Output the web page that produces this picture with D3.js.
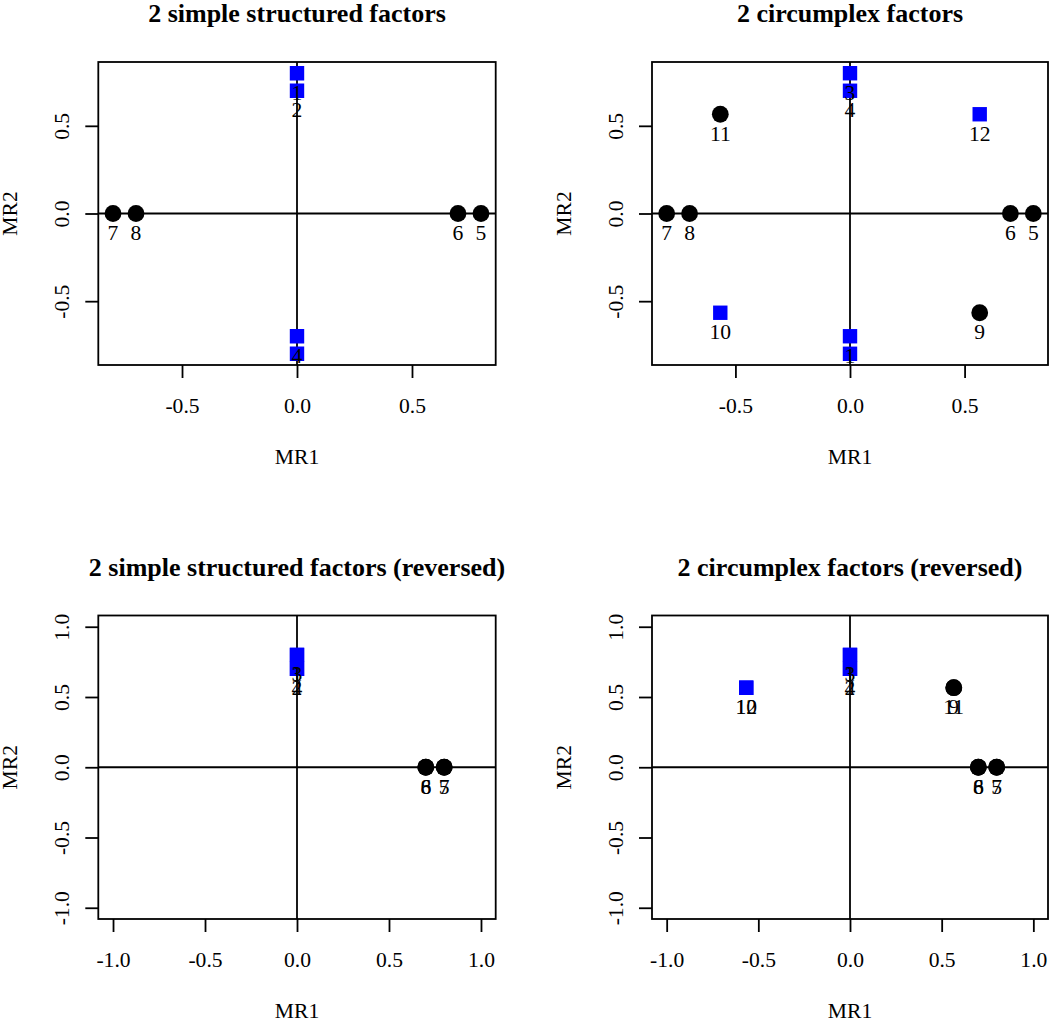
<!DOCTYPE html>
<html>
<head>
<meta charset="utf-8">
<script src="https://cdn.jsdelivr.net/npm/d3@7"></script>
<style>
  html, body { margin: 0; padding: 0; background: #fff; }
  svg { display: block; }
  text { font-family: "Liberation Serif", "Times New Roman", serif; fill: #000; }
</style>
</head>
<body>
<svg id="chart" width="1050" height="1020"></svg>
<script>
// ---------------- data ----------------
const panelTitles = [
  "2 simple structured factors",
  "2 circumplex factors",
  "2 simple structured factors (reversed)",
  "2 circumplex factors (reversed)"
];
const xAxisTitle = "MR1";
const yAxisTitle = "MR2";

// tick values / labels
const ticksSmall = [-0.5, 0, 0.5];
const tickLabelsSmall = ["-0.5", "0.0", "0.5"];
const ticksLarge = [-1, -0.5, 0, 0.5, 1];
const tickLabelsLarge = ["-1.0", "-0.5", "0.0", "0.5", "1.0"];

// panel 1: simple structure
const simpleItems = ["1", "2", "3", "4", "5", "6", "7", "8"];
const simpleMR1 = [0, 0, 0, 0, 0.8, 0.7, -0.8, -0.7];
const simpleMR2 = [0.8, 0.7, -0.8, -0.7, 0, 0, 0, 0];
const simpleCluster = [2, 2, 2, 2, 1, 1, 1, 1];

// panel 2: circumplex
const circItems = ["1", "2", "3", "4", "5", "6", "7", "8", "9", "10", "11", "12"];
const circMR1 = [0, 0, 0, 0, 0.8, 0.7, -0.8, -0.7, 0.566, -0.566, -0.566, 0.566];
const circMR2 = [-0.7, -0.8, 0.8, 0.7, 0, 0, 0, 0, -0.566, -0.566, 0.566, 0.566];
const circCluster = [2, 2, 2, 2, 1, 1, 1, 1, 1, 2, 1, 2];

// panel 3: simple structure, reversed
const revSimpleMR1 = [0, 0, 0, 0, 0.8, 0.7, 0.8, 0.7];
const revSimpleMR2 = [0.8, 0.7, 0.8, 0.7, 0, 0, 0, 0];

// panel 4: circumplex, reversed
const revCircMR1 = [0, 0, 0, 0, 0.8, 0.7, 0.8, 0.7, 0.566, -0.566, 0.566, -0.566];
const revCircMR2 = [0.8, 0.7, 0.8, 0.7, 0, 0, 0, 0, 0.566, 0.566, 0.566, 0.566];

// ---------------- layout ----------------
const svg = d3.select("#chart");
const FONT = 21.6;

const panels = [
  { title: panelTitles[0], items: simpleItems, x: simpleMR1, y: simpleMR2, cl: simpleCluster,
    lim: 0.864, ticks: ticksSmall, labels: tickLabelsSmall, left: 98.3, top: 62, w: 397.4, h: 303 },
  { title: panelTitles[1], items: circItems, x: circMR1, y: circMR2, cl: circCluster,
    lim: 0.864, ticks: ticksSmall, labels: tickLabelsSmall, left: 652, top: 62, w: 396, h: 303 },
  { title: panelTitles[2], items: simpleItems, x: revSimpleMR1, y: revSimpleMR2, cl: simpleCluster,
    lim: 1.08, ticks: ticksLarge, labels: tickLabelsLarge, left: 98.3, top: 615.5, w: 397.4, h: 303.5 },
  { title: panelTitles[3], items: circItems, x: revCircMR1, y: revCircMR2, cl: circCluster,
    lim: 1.08, ticks: ticksLarge, labels: tickLabelsLarge, left: 652, top: 615.5, w: 396, h: 303.5 }
];

const squareSym = d3.symbol().type(d3.symbolSquare).size(14.4 * 14.4);
const circleSym = d3.symbol().type(d3.symbolCircle).size(Math.PI * 8.4 * 8.4);

panels.forEach((p, i) => {
  const xs = d3.scaleLinear().domain([-p.lim, p.lim]).range([p.left, p.left + p.w]);
  const ys = d3.scaleLinear().domain([-p.lim, p.lim]).range([p.top + p.h, p.top]);
  const cx = p.left + p.w / 2;
  const bottom = p.top + p.h;

  const clipId = "clip" + i;
  svg.append("clipPath").attr("id", clipId)
    .append("rect").attr("x", p.left).attr("y", p.top).attr("width", p.w).attr("height", p.h);

  // title
  svg.append("text")
    .attr("x", cx).attr("y", p.top - 40)
    .attr("text-anchor", "middle")
    .style("font-size", "26px").style("font-weight", "bold")
    .text(p.title);

  // x axis
  const xg = svg.append("g").attr("transform", `translate(0,${bottom})`)
    .call(d3.axisBottom(xs).tickValues(p.ticks).tickSize(13)
      .tickFormat((d, k) => p.labels[k]));
  xg.select(".domain").remove();
  xg.selectAll(".tick line").attr("stroke", "#000").attr("stroke-width", 1.8);
  xg.selectAll(".tick text").attr("y", 48).attr("dy", null)
    .attr("fill", "#000")
    .style("font-size", FONT + "px").style("font-family", '"Liberation Serif", serif');

  // y axis
  const yg = svg.append("g").attr("transform", `translate(${p.left},0)`)
    .call(d3.axisLeft(ys).tickValues(p.ticks).tickSize(13)
      .tickFormat((d, k) => p.labels[k]));
  yg.select(".domain").remove();
  yg.selectAll(".tick line").attr("stroke", "#000").attr("stroke-width", 1.8);
  yg.selectAll(".tick text")
    .attr("x", null).attr("dy", null)
    .attr("transform", "translate(-29,0) rotate(-90)")
    .attr("text-anchor", "middle")
    .attr("fill", "#000")
    .style("font-size", FONT + "px").style("font-family", '"Liberation Serif", serif');

  // axis titles
  svg.append("text")
    .attr("x", cx).attr("y", bottom + 99)
    .attr("text-anchor", "middle")
    .style("font-size", FONT + "px")
    .text(xAxisTitle);
  svg.append("text")
    .attr("transform", `translate(${p.left - 81},${p.top + p.h / 2}) rotate(-90)`)
    .attr("text-anchor", "middle")
    .style("font-size", FONT + "px")
    .text(yAxisTitle);

  // plot region content (clipped)
  const g = svg.append("g").attr("clip-path", `url(#${clipId})`);
  g.append("line")
    .attr("x1", p.left).attr("x2", p.left + p.w)
    .attr("y1", ys(0)).attr("y2", ys(0))
    .attr("stroke", "#000").attr("stroke-width", 1.8);
  g.append("line")
    .attr("x1", xs(0)).attr("x2", xs(0))
    .attr("y1", p.top).attr("y2", bottom)
    .attr("stroke", "#000").attr("stroke-width", 1.8);

  const data = p.items.map((lab, k) => ({ lab, x: p.x[k], y: p.y[k], cl: p.cl[k] }));

  g.selectAll("path.pt").data(data).enter().append("path")
    .attr("class", "pt")
    .attr("transform", d => `translate(${xs(d.x)},${ys(d.y)})`)
    .attr("d", d => d.cl === 2 ? squareSym() : circleSym())
    .attr("fill", d => d.cl === 2 ? "#0000FF" : "#000");

  g.selectAll("text.lab").data(data).enter().append("text")
    .attr("class", "lab")
    .attr("x", d => xs(d.x))
    .attr("y", d => ys(d.y) + 26.5)
    .attr("text-anchor", "middle")
    .style("font-size", FONT + "px")
    .text(d => d.lab);

  // box
  svg.append("rect")
    .attr("x", p.left).attr("y", p.top).attr("width", p.w).attr("height", p.h)
    .attr("fill", "none").attr("stroke", "#000").attr("stroke-width", 1.8);
});
</script>
</body>
</html>
